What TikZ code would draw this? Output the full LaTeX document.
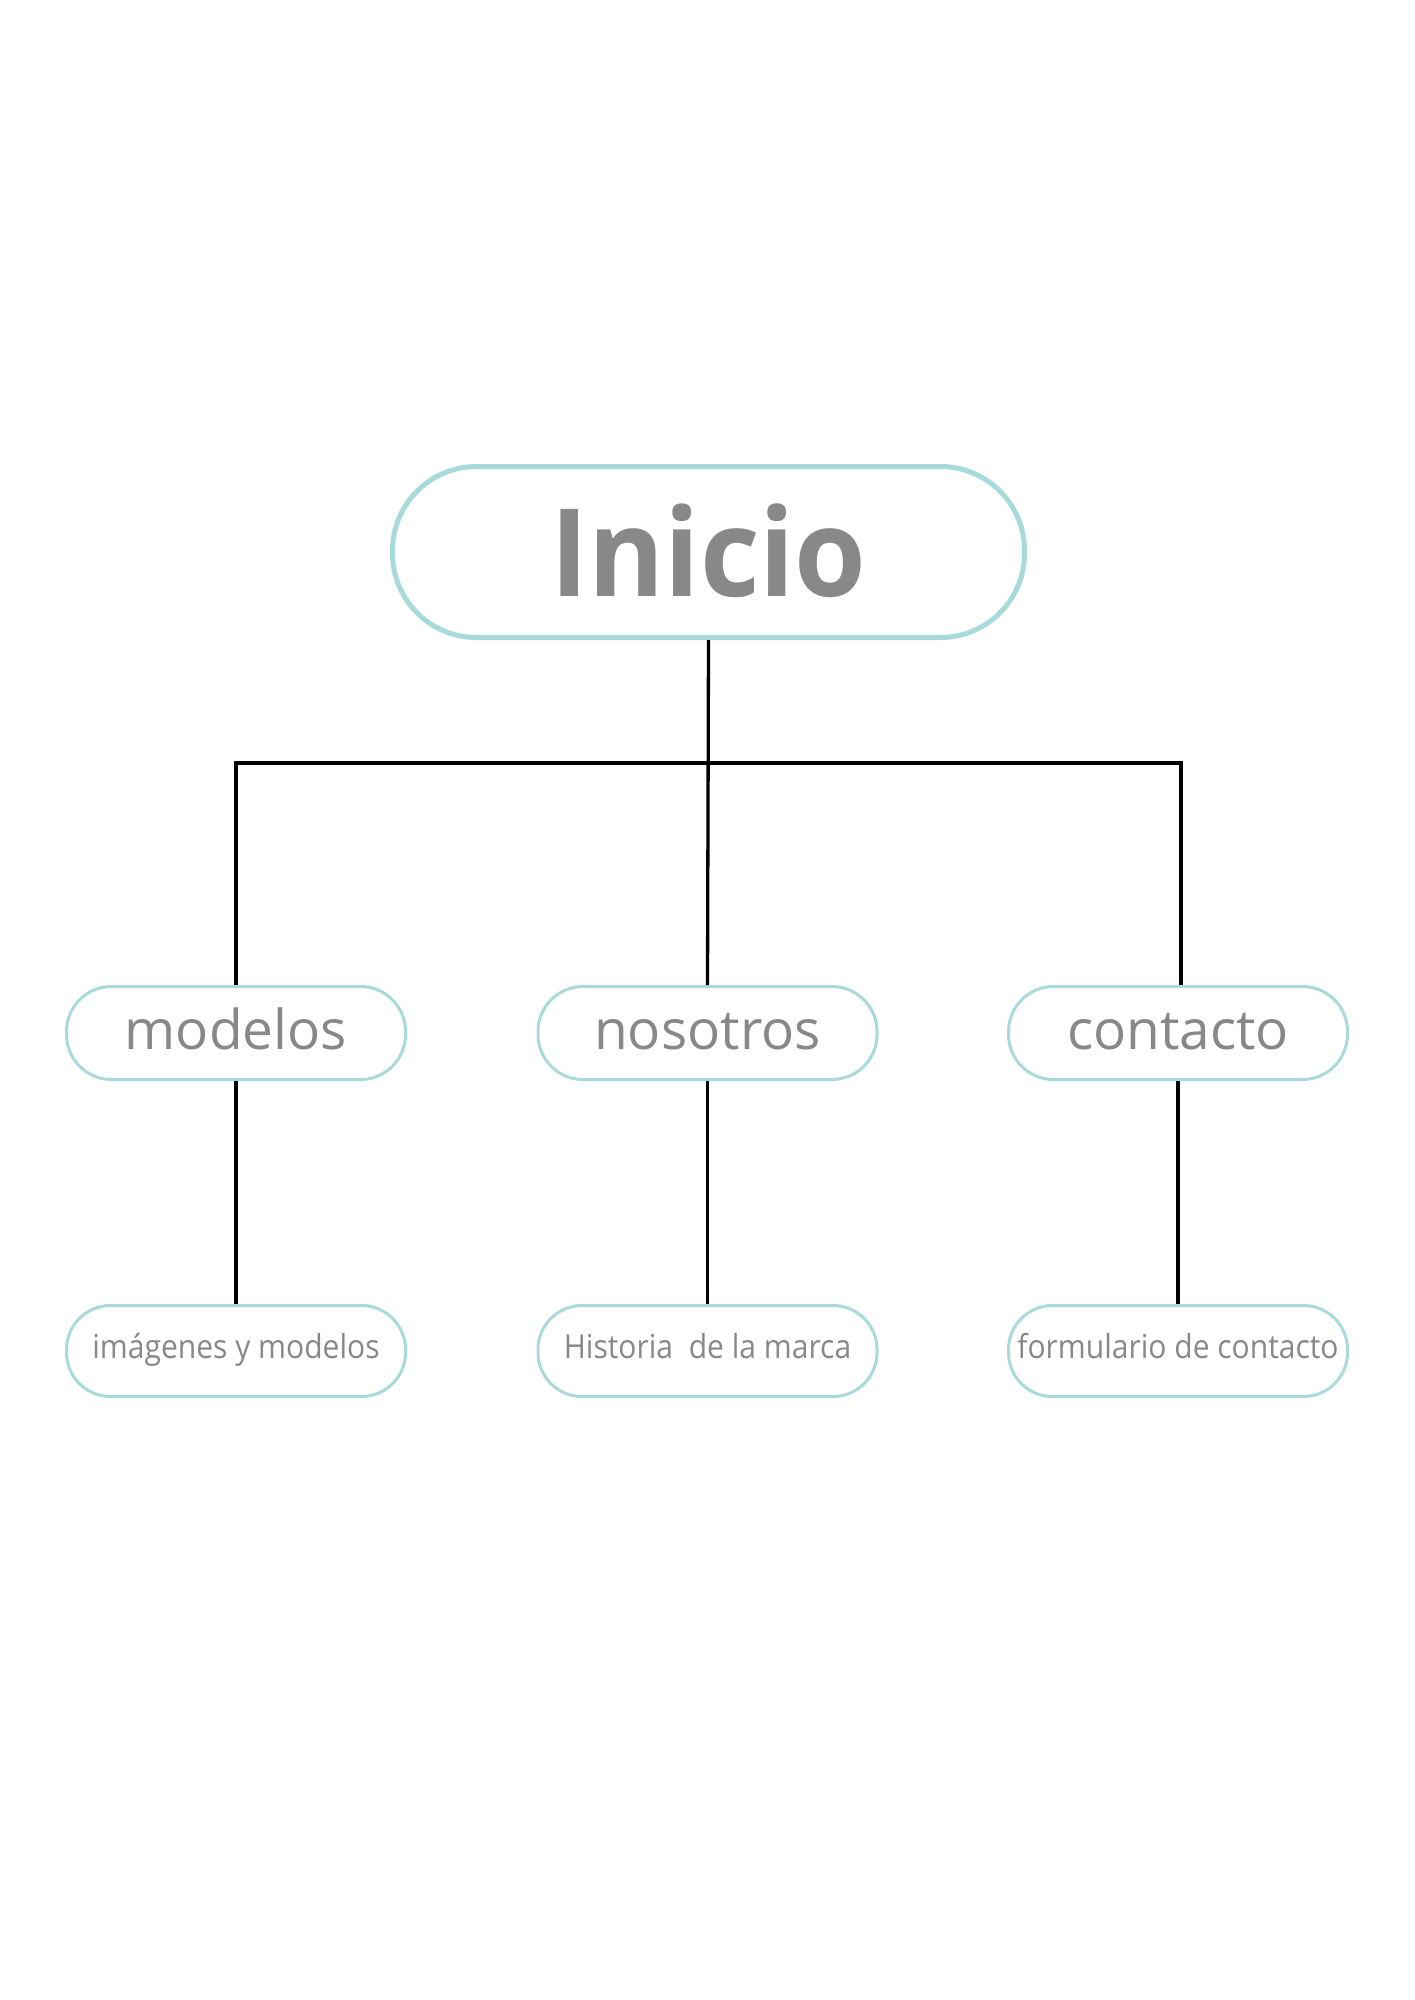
\documentclass[tikz,border=0pt]{standalone}
\usepackage{fontspec}
\setmainfont{Open Sans}
\newfontfamily\topfont[FakeStretch=0.95]{Open Sans}
\newfontfamily\lowfont[FakeStretch=0.91]{Open Sans}
\definecolor{teal}{HTML}{A8DADC}
\definecolor{txt}{HTML}{888888}
\tikzset{
  topbox/.style={draw=teal, line width=5pt, rounded corners=84pt, fill=white,
    minimum width=632pt, minimum height=171pt, inner sep=0pt,
    text=txt, font=\topfont\fontsize{122}{122}\selectfont\bfseries, text height=88pt, text depth=0pt},
  midbox/.style={draw=teal, line width=3pt, rounded corners=45pt,
    minimum width=339pt, minimum height=93pt, inner sep=0pt,
    text=txt, font=\fontsize{55}{55}\selectfont, text height=32pt, text depth=0pt},
  lowbox/.style={draw=teal, line width=3pt, rounded corners=44pt,
    minimum width=339pt, minimum height=91pt, inner sep=0pt,
    text=txt, font=\lowfont\fontsize{33}{33}\selectfont, text height=14pt, text depth=0pt},
  link/.style={draw=black, line width=3.3pt}
}
\begin{document}
\begin{tikzpicture}[x=1pt,y=-1pt]
\useasboundingbox (0,0) rectangle (1414,2000);
\fill[white] (0,0) rectangle (1414,2000);
\node[topbox] (inicio) at (708.5,552) {Inicio};
\node[midbox] (modelos) at (236,1033) {modelos};
\node[midbox] (nosotros) at (707.5,1033) {nosotros};
\node[midbox] (contacto) at (1178,1033) {contacto};
\node[lowbox] (imagenes) at (236,1351) {imágenes y modelos};
\node[lowbox] (historia) at (707.5,1351) {Historia\ \ de la marca};
\node[lowbox] (formulario) at (1178,1351) {formulario de contacto};
\coordinate (busL) at (236,763);
\coordinate (busR) at (1181,763);
\draw[link] (inicio.south) -- (nosotros.north);
\draw[link] (modelos.north) -- (busL) -- (busR) -- (busR |- contacto.north);
\draw[link] (modelos.south) -- (imagenes.north);
\draw[link] (nosotros.south) -- (historia.north);
\draw[link] (contacto.south) -- (formulario.north);
\end{tikzpicture}
\end{document}
